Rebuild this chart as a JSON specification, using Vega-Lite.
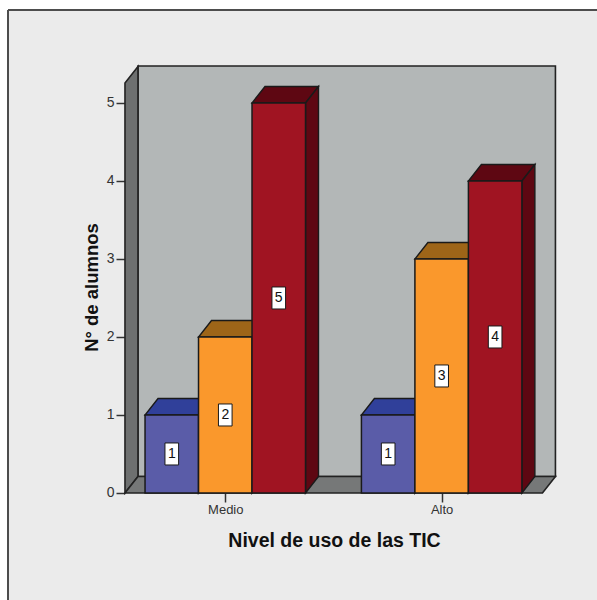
{
"$schema":"https://vega.github.io/schema/vega-lite/v6.json",
"width":589,"height":590,"autosize":{"type":"none"},
"padding":{"left":8,"top":10,"right":0,"bottom":0},
"background":"#ffffff",
"view":{"fill":"#ebebeb","stroke":null},
"resolve":{"scale":{"fill":"independent"},"axis":{"x":"independent","y":"independent"}},
"data":{"values":[
{"nivel":"Medio","serie":"A","alumnos":1},
{"nivel":"Medio","serie":"B","alumnos":2},
{"nivel":"Medio","serie":"C","alumnos":5},
{"nivel":"Alto","serie":"A","alumnos":1},
{"nivel":"Alto","serie":"B","alumnos":3},
{"nivel":"Alto","serie":"C","alumnos":4}
]},
"transform":[
{"calculate":"(datum.nivel=='Medio'?0:1)+(indexof(['A','B','C'],datum.serie)-1.5)*0.2472","as":"x0"},
{"calculate":"datum.x0+0.2472","as":"x1"},
{"calculate":"datum.x0+0.1236","as":"xm"},
{"calculate":"datum.alumnos/2","as":"ym"},
{"calculate":"datum.nivel+datum.serie","as":"barra"}
],
"layer":[
{"data":{"values":[{"c":0}]},
 "mark":{"type":"rect","fill":"#b3b7b7","stroke":"#222222","strokeWidth":1.6},
 "encoding":{
  "x":{"datum":-0.4035,"scale":{"domain":[-1.0041,1.7179]},"axis":{"values":[0,1],"labelExpr":"datum.value==0?'Medio':'Alto'","offset":-107,"domain":false,"grid":false,"tickSize":9,"tickColor":"#333333","tickWidth":1.5,"labelFont":"Liberation Sans","labelFontSize":13,"labelColor":"#333333","labelPadding":1,"title":"Nivel de uso de las TIC","titleFont":"Liberation Sans","titleFontSize":19.5,"titleFontWeight":"bold","titleColor":"#111111","titleX":326,"titleY":53,"titleBaseline":"alphabetic"}},
  "x2":{"datum":1.5258},
  "y":{"datum":0.2115,"scale":{"domain":[-1.372,6.192]},"axis":{"values":[0,1,2,3,4,5],"format":"d","offset":-117,"domain":false,"grid":false,"tickSize":9,"tickColor":"#333333","tickWidth":1.5,"labelFont":"Liberation Sans","labelFontSize":14,"labelColor":"#333333","labelPadding":2,"title":"N° de alumnos","titleFont":"Liberation Sans","titleFontSize":18.5,"titleFontWeight":"bold","titleColor":"#111111","titleX":-24,"titleY":277}},
  "y2":{"datum":5.474}
 }},
{"data":{"values":[{"c":0},{"c":1}]},
 "transform":[
  {"calculate":"-0.4635+datum.c*0.06","as":"xp"},
  {"calculate":"datum.c*0.2115","as":"lo"},
  {"calculate":"5.256+datum.c*0.2115","as":"hi"}],
 "mark":{"type":"area","fill":"#6e7070","stroke":"#222222","strokeWidth":1.6},
 "encoding":{
  "x":{"field":"xp","type":"quantitative","scale":{"domain":[-1.0041,1.7179]},"axis":null},
  "y":{"field":"lo","type":"quantitative","scale":{"domain":[-1.372,6.192]},"axis":null,"stack":null},
  "y2":{"field":"hi"}}},
{"data":{"values":[{"c":0},{"c":1},{"c":2},{"c":3}]},
 "transform":[
  {"calculate":"datum.c<2?-0.4635+datum.c*0.06:1.4658+(datum.c-2)*0.06","as":"xp"},
  {"calculate":"datum.c==3?0.2115:0","as":"lo"},
  {"calculate":"datum.c==0?0:0.2115","as":"hi"}],
 "mark":{"type":"area","fill":"#767878","stroke":"#222222","strokeWidth":1.6},
 "encoding":{
  "x":{"field":"xp","type":"quantitative","scale":{"domain":[-1.0041,1.7179]},"axis":null},
  "y":{"field":"lo","type":"quantitative","scale":{"domain":[-1.372,6.192]},"axis":null,"stack":null},
  "y2":{"field":"hi"}}},
{"transform":[
  {"calculate":"[0,1,2,3]","as":"c"},{"flatten":["c"]},
  {"calculate":"datum.x0+(datum.c<2?datum.c*0.06:0.2472+(datum.c-2)*0.06)","as":"xp"},
  {"calculate":"datum.c==3?datum.alumnos+0.2115:datum.alumnos","as":"lo"},
  {"calculate":"datum.c==0?datum.alumnos:datum.alumnos+0.2115","as":"hi"}],
 "mark":{"type":"area","stroke":"#1a1a1a","strokeWidth":1.4},
 "encoding":{
  "x":{"field":"xp","type":"quantitative","scale":{"domain":[-1.0041,1.7179]},"axis":null},
  "y":{"field":"lo","type":"quantitative","scale":{"domain":[-1.372,6.192]},"axis":null,"stack":null},
  "y2":{"field":"hi"},
  "detail":{"field":"barra"},
  "fill":{"field":"serie","type":"nominal","legend":null,"scale":{"domain":["A","B","C"],"range":["#30409a","#9e6518","#5e0712"]}}}},
{"transform":[
  {"calculate":"[0,1]","as":"c"},{"flatten":["c"]},
  {"calculate":"datum.x1+datum.c*0.06","as":"xp"},
  {"calculate":"datum.c*0.2115","as":"lo"},
  {"calculate":"datum.alumnos+datum.c*0.2115","as":"hi"}],
 "mark":{"type":"area","fill":"#5e0712","stroke":"#1a1a1a","strokeWidth":1.4},
 "encoding":{
  "x":{"field":"xp","type":"quantitative","scale":{"domain":[-1.0041,1.7179]},"axis":null},
  "y":{"field":"lo","type":"quantitative","scale":{"domain":[-1.372,6.192]},"axis":null,"stack":null},
  "y2":{"field":"hi"},
  "detail":{"field":"barra"}}},
{"mark":{"type":"rect","stroke":"#1a1a1a","strokeWidth":1.5},
 "encoding":{
  "x":{"field":"x0","type":"quantitative","scale":{"domain":[-1.0041,1.7179]},"axis":null},
  "x2":{"field":"x1"},
  "y":{"field":"alumnos","type":"quantitative","scale":{"domain":[-1.372,6.192]},"axis":null},
  "y2":{"datum":0},
  "fill":{"field":"serie","type":"nominal","legend":null,"scale":{"domain":["A","B","C"],"range":["#5a5ca8","#fa982c","#a01422"]}}}},
{"mark":{"type":"point","shape":"M-0.62,-1H0.62V1H-0.62Z","filled":true,"fill":"#ffffff","stroke":"#1a1a1a","strokeWidth":1,"opacity":1,"size":484},
 "encoding":{
  "x":{"field":"xm","type":"quantitative","scale":{"domain":[-1.0041,1.7179]},"axis":null},
  "y":{"field":"ym","type":"quantitative","scale":{"domain":[-1.372,6.192]},"axis":null}}},
{"mark":{"type":"text","font":"Liberation Sans","fontSize":14,"color":"#111111","baseline":"middle","align":"center"},
 "encoding":{
  "x":{"field":"xm","type":"quantitative","scale":{"domain":[-1.0041,1.7179]},"axis":null},
  "y":{"field":"ym","type":"quantitative","scale":{"domain":[-1.372,6.192]},"axis":null},
  "text":{"field":"alumnos","type":"quantitative","format":"d"}}},
{"data":{"values":[{"c":0}]},
 "mark":{"type":"rule","stroke":"#4d4d4d","strokeWidth":2},
 "encoding":{"x":{"datum":-1.0041,"scale":{"domain":[-1.0041,1.7179]},"axis":null}}},
{"data":{"values":[{"c":0}]},
 "mark":{"type":"rule","stroke":"#4d4d4d","strokeWidth":2},
 "encoding":{"y":{"datum":6.192,"scale":{"domain":[-1.372,6.192]},"axis":null}}}
]
}
